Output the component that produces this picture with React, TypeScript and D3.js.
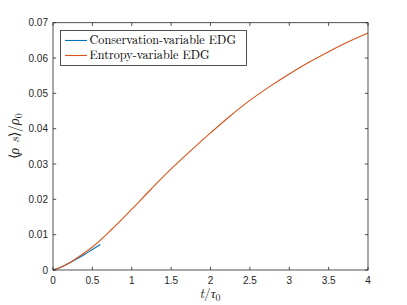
import React from "react";
import * as d3 from "d3";

const orangeT = [0, 0.1, 0.2, 0.25, 0.5, 0.75, 1.0, 1.25, 1.5, 1.75, 2.0, 2.25, 2.5, 2.75, 3.0, 3.25, 3.5, 3.75, 4.0];
const orangeV = [0, 0.0008, 0.0019, 0.0026, 0.0065, 0.0116, 0.0172, 0.0230, 0.0286, 0.0338, 0.0388, 0.0436, 0.0480, 0.0519, 0.0555, 0.0588, 0.0618, 0.0646, 0.0671];
const blueT = [0, 0.1, 0.2, 0.3, 0.4, 0.5, 0.6];
const blueV = [0, 0.0008, 0.0019, 0.0031, 0.0044, 0.0058, 0.0072];
const xTicks = [0, 0.5, 1, 1.5, 2, 2.5, 3, 3.5, 4];
const yTicks = [0, 0.01, 0.02, 0.03, 0.04, 0.05, 0.06, 0.07];
const seriesNames = ["Conservation-variable EDG", "Entropy-variable EDG"];
const colors = ["#0072BD", "#D95319"];

export default function App() {
  const L = 53, R = 368, T = 22.7, B = 270;
  const x = d3.scaleLinear().domain([0, 4]).range([L, R]);
  const y = d3.scaleLinear().domain([0, 0.07]).range([B, T]);
  const line = d3
    .line<[number, number]>()
    .x((d) => x(d[0]))
    .y((d) => y(d[1]))
    .curve(d3.curveCatmullRom.alpha(0.5));
  const blue = blueT.map((t, i) => [t, blueV[i]] as [number, number]);
  const orange = orangeT.map((t, i) => [t, orangeV[i]] as [number, number]);
  const axisColor = "#262626";
  const tickFont = { fontFamily: '"Liberation Sans", Arial, sans-serif' };
  const lm = { fontFamily: '"Latin Modern Roman", "Liberation Serif", serif' };
  const tl = 3.2;
  return (
    <svg width={407} height={305} style={{ position: "absolute", left: 0, top: 0, background: "#fff" }}>
      <rect x={0} y={0} width={407} height={305} fill="#fff" />
      <path d={line(blue) || ""} fill="none" stroke={colors[0]} strokeWidth={1.1} />
      <path d={line(orange) || ""} fill="none" stroke={colors[1]} strokeWidth={1.1} />
      <rect x={L} y={T} width={R - L} height={B - T} fill="none" stroke={axisColor} strokeWidth={0.8} />
      {xTicks.map((t) => (
        <g key={"x" + t}>
          <line x1={x(t)} x2={x(t)} y1={B} y2={B - tl} stroke={axisColor} strokeWidth={0.8} />
          <line x1={x(t)} x2={x(t)} y1={T} y2={T + tl} stroke={axisColor} strokeWidth={0.8} />
          <text x={x(t)} y={B + 13.5} fontSize={10} style={tickFont} fill={axisColor} textAnchor="middle">
            {String(t)}
          </text>
        </g>
      ))}
      {yTicks.map((v) => (
        <g key={"y" + v}>
          <line x1={L} x2={L + tl} y1={y(v)} y2={y(v)} stroke={axisColor} strokeWidth={0.8} />
          <line x1={R} x2={R - tl} y1={y(v)} y2={y(v)} stroke={axisColor} strokeWidth={0.8} />
          <text x={L - 5} y={y(v) + 3.5} fontSize={10} style={tickFont} fill={axisColor} textAnchor="end">
            {v === 0 ? "0" : v.toFixed(2)}
          </text>
        </g>
      ))}
      <g>
        <rect x={60.5} y={30.5} width={186} height={35} fill="#fff" stroke={axisColor} strokeWidth={0.8} />
        {seriesNames.map((n, i) => (
          <g key={n}>
            <line x1={65} x2={87} y1={40.5 + i * 15} y2={40.5 + i * 15} stroke={colors[i]} strokeWidth={1.1} />
            <text x={89.5} y={44.3 + i * 15} fontSize={12.2} style={lm} fill="#000">
              {n}
            </text>
          </g>
        ))}
      </g>
      <text x={210} y={298} fontSize={13.5} style={lm} fill="#262626" textAnchor="middle">
        <tspan fontStyle="italic">t</tspan>
        <tspan>/</tspan>
        <tspan fontStyle="italic">τ</tspan>
        <tspan fontSize={10} dy={2.5}>0</tspan>
      </text>
      <text transform={`translate(19,${(T + B) / 2 - 10}) rotate(-90)`} fontSize={14} style={lm} fill="#262626" textAnchor="middle">
        <tspan>⟨</tspan>
        <tspan fontStyle="italic">ρ s</tspan>
        <tspan>⟩/</tspan>
        <tspan fontStyle="italic">ρ</tspan>
        <tspan fontSize={10} dy={2.5}>0</tspan>
      </text>
    </svg>
  );
}
